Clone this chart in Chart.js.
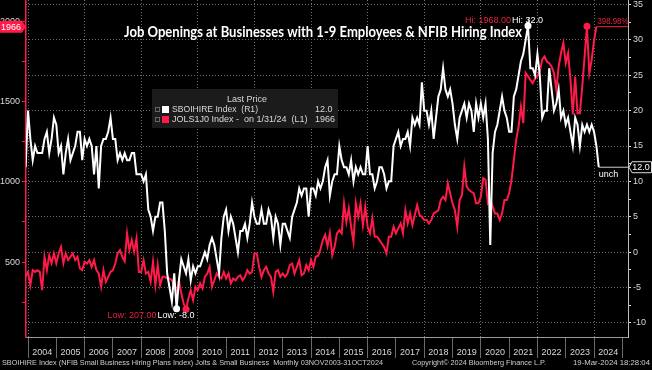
<!DOCTYPE html>
<html><head><meta charset="utf-8">
<script src="https://cdn.jsdelivr.net/npm/chart.js@4.4.1/dist/chart.umd.min.js"></script>
<style>html,body{margin:0;padding:0;background:#000;overflow:hidden}canvas{display:block}</style>
</head><body>
<canvas id="c" width="652" height="370"></canvas>
<script>
// ---- data ----
const years = ['2004','2005','2006','2007','2008','2009','2010','2011','2012','2013','2014','2015','2016','2017','2018','2019','2020','2021','2022','2023','2024'];
// month index 0 = Jan 2004 boundary; monthly values plotted at month end
const hiringStart = -1; // Nov 2003
const hiringPlans = [12,
20,16,13,15,14,14,14,16,17,14,16,19,
18,14,15,11,14,16,13,14,15,17,17,13,
16,15,16,15,11,15,9,15,16,16,17,19,
16,16,13,14,13,14,13,13,14,14,11,11,
11,10,11,6,5,3,5,5,7,7,3,-3,
-5,-7,-3,-8,-4,-1,-2,-3,-1,-4,-2,-3,
-2,-2,-1,0,-1,1,2,1,-1,-3,2,5,
6,3,5,4,2,0,3,3,4,2,4,7,
5,4,4,6,4,4,6,5,2,5,4,1,
4,4,3,2,5,6,7,9,8,9,9,5,
9,9,8,10,9,10,12,13,8,10,11,11,
15,13,12,12,11,13,10,12,11,12,11,11,
15,11,11,9,10,12,12,11,9,10,10,15,
16,17,15,16,16,17,15,19,18,19,18,24,
20,20,18,20,16,19,22,23,26,23,22,23,
21,18,16,19,20,21,19,21,20,17,21,19,
21,19,21,16,1,14,17,18,20,22,20,19,
17,17,22,23,25,27,28,30,32,26,26,25,
28,25,19,20,20,26,23,20,21,23,19,20,
18,19,17,15,19,18,15,18,17,18,17,18,
17,15,12];
const joltsStart = -1; // Nov 2003
const joltsOpenings = [408,
439,356,450,439,450,439,325,533,450,543,493,554,
493,554,595,493,554,512,533,554,512,533,460,450,
502,491,512,470,512,450,429,346,450,377,408,439,
450,491,554,575,533,505,679,575,637,565,648,439,
439,512,429,439,377,502,356,481,356,408,408,398,
398,387,346,304,387,304,242,207,273,325,263,346,
325,367,336,408,429,470,346,387,429,408,398,439,
398,429,367,398,387,408,418,387,408,450,429,439,
554,554,470,408,450,470,429,408,315,439,450,408,
429,408,429,481,491,429,470,512,418,429,481,450,
512,470,533,540,580,637,670,600,680,543,595,679,
699,679,866,751,834,720,626,866,782,866,730,845,
720,679,772,658,658,637,616,595,554,658,658,720,
679,710,741,679,824,741,803,730,793,855,793,782,
762,762,741,762,803,813,824,886,907,886,991,928,
866,824,720,886,917,1094,970,949,938,928,866,866,
907,1022,1012,866,887,845,803,803,762,803,886,886,
928,1011,1136,1261,1344,1468,1365,1677,1656,1635,1614,1646,
1656,1687,1760,1780,1749,1739,1718,1677,1573,1718,1802,1864,
1739,1802,1635,1420,1656,1427,1427,1593,1780,1968,1677,1760,
1880,1966];
const rightTicks = [-10,-7.5,-5,-2.5,0,2.5,5,7.5,10,12.5,15,17.5,20,22.5,25,27.5,30,32.5,35];
const leftTicks = [250,500,750,1000,1250,1500,1750,2000];

const TITLE = 'Job Openings at Businesses with 1-9 Employees & NFIB Hiring Index';
const LEG_HEAD = 'Last Price';
const LEG1 = 'SBOIHIRE Index  (R1)', LEG1V = '12.0';
const LEG2 = 'JOLS1J0 Index -  on 1/31/24  (L1)', LEG2V = '1966';
const FOOT_L = 'SBOIHIRE Index (NFIB Small Business Hiring Plans Index) Jolts & Small Business  Monthly 03NOV2003-31OCT2024';
const FOOT_C = 'Copyright\u00A9 2024 Bloomberg Finance L.P.';
const FOOT_R = '19-Mar-2024 18:28:04';
const PCT = '398.98%';

// ---- styles ----
const RED = '#ff1a4a', RED_TXT = '#e8203e', WHITE = '#ffffff', GRID = '#6e6e6e', TXT = '#d8d8d8';
const X_MIN = -0.85, X_MAX = 254.4;

const toXY = (start, arr) => arr.map((v, i) => ({x: start + i, y: v}));
const whitePts = toXY(hiringStart, hiringPlans);
const redPts = toXY(joltsStart, joltsOpenings);
const argMax = a => a.indexOf(Math.max(...a));
const argMin = a => a.indexOf(Math.min(...a));
const wHi = argMax(hiringPlans), wLo = argMin(hiringPlans);
const rHi = argMax(joltsOpenings), rLo = argMin(joltsOpenings);
const wLast = hiringPlans.length - 1, rLast = joltsOpenings.length - 1;

const xTicks = [];
years.forEach((y, k) => { xTicks.push({value: k * 12}); xTicks.push({value: k * 12 + 6}); });
xTicks.push({value: years.length * 12});

const f = (s, w) => ({family: 'Liberation Sans', size: s, weight: w || 'normal'});
const noPad = s => { s.paddingTop = 0; s.paddingBottom = 0; s.paddingLeft = 0; s.paddingRight = 0; };

const overlay = {
  id: 'overlay',
  afterDraw(chart) {
    const {ctx, scales} = chart;
    const xs = scales.x, yr = scales.y, yl = scales.y1;
    ctx.save();
    ctx.textBaseline = 'middle';
    // title
    ctx.fillStyle = WHITE;
    ctx.font = '700 15px Lato';
    ctx.textAlign = 'center';
    ctx.fillText(TITLE, 323, 32, 398);
    // legend box
    ctx.fillStyle = '#1b1b1b';
    ctx.fillRect(152, 89, 186, 39);
    ctx.font = '9px "Liberation Sans"';
    ctx.fillStyle = TXT;
    ctx.fillText(LEG_HEAD, 247, 100);
    ctx.textAlign = 'left';
    ctx.strokeStyle = '#666'; ctx.lineWidth = 1;
    ctx.strokeRect(155.5, 107.5, 4, 4);
    ctx.strokeRect(155.5, 117.5, 4, 4);
    ctx.fillStyle = WHITE; ctx.fillRect(162, 106, 7, 7);
    ctx.fillStyle = RED; ctx.fillRect(162, 116, 7, 7);
    ctx.fillStyle = TXT;
    ctx.fillText(LEG1, 172, 110, 86);
    ctx.fillText(LEG1V, 315, 110);
    ctx.fillText(LEG2, 172, 120, 140);
    ctx.fillText(LEG2V, 315, 120);
    // hi / low labels
    const hwX = xs.getPixelForValue(hiringStart + wHi), hwY = yr.getPixelForValue(hiringPlans[wHi]);
    const lwX = xs.getPixelForValue(hiringStart + wLo), lwY = yr.getPixelForValue(hiringPlans[wLo]);
    ctx.font = '9px "Liberation Sans"';
    ctx.textAlign = 'left'; ctx.fillStyle = WHITE;
    ctx.fillText('Hi: ' + hiringPlans[wHi].toFixed(1), hwX - 16, hwY - 5.5);
    ctx.textAlign = 'right'; ctx.fillStyle = RED_TXT;
    ctx.fillText('Hi: ' + joltsOpenings[rHi].toFixed(2), hwX - 17, hwY - 5.5);
    ctx.textAlign = 'left'; ctx.fillStyle = WHITE;
    ctx.fillText('Low: ' + hiringPlans[wLo].toFixed(1), lwX - 19, lwY + 7);
    ctx.textAlign = 'right'; ctx.fillStyle = RED_TXT;
    ctx.fillText('Low: ' + joltsOpenings[rLo].toFixed(2), lwX - 20, lwY + 7);
    // last value annotations
    const rlX = xs.getPixelForValue(joltsStart + rLast), rlY = yl.getPixelForValue(joltsOpenings[rLast]);
    ctx.textAlign = 'left'; ctx.fillStyle = RED_TXT;
    ctx.fillText(PCT, rlX + 1, rlY - 5, 31);
    const wlX = xs.getPixelForValue(hiringStart + wLast), wlY = yr.getPixelForValue(hiringPlans[wLast]);
    ctx.fillStyle = WHITE;
    ctx.fillText('unch', wlX, wlY + 7);
    // right value box
    const ax = chart.chartArea.right;
    ctx.beginPath();
    ctx.moveTo(ax + 1, wlY); ctx.lineTo(ax + 4, wlY - 5.5); ctx.lineTo(651.5, wlY - 5.5);
    ctx.lineTo(651.5, wlY + 5.5); ctx.lineTo(ax + 4, wlY + 5.5); ctx.closePath();
    ctx.fillStyle = '#000'; ctx.fill();
    ctx.strokeStyle = '#ddd'; ctx.stroke();
    ctx.fillStyle = WHITE; ctx.textAlign = 'center';
    ctx.fillText(hiringPlans[wLast].toFixed(1), 641, wlY + 0.5);
    // left value box
    const lbY = yl.getPixelForValue(joltsOpenings[rLast]);
    const al = chart.chartArea.left;
    ctx.beginPath();
    ctx.moveTo(0, lbY - 6); ctx.lineTo(al - 4, lbY - 6); ctx.lineTo(al, lbY);
    ctx.lineTo(al - 4, lbY + 6); ctx.lineTo(0, lbY + 6); ctx.closePath();
    ctx.fillStyle = RED; ctx.fill();
    ctx.fillStyle = WHITE;
    ctx.fillText(String(joltsOpenings[rLast]), 11, lbY + 0.5);
    // footer
    ctx.font = '8px "Liberation Sans"';
    ctx.fillStyle = '#cfcfcf';
    ctx.textAlign = 'left';
    ctx.fillText(FOOT_L, 2, 363, 381);
    ctx.fillText(FOOT_C, 412, 363, 134);
    ctx.fillText(FOOT_R, 573, 363, 77);
    ctx.restore();
  }
};

new Chart(document.getElementById('c'), {
  type: 'line',
  data: {
    datasets: [
      {data: whitePts, yAxisID: 'y', borderColor: WHITE, backgroundColor: WHITE, borderWidth: 2,
       pointRadius: c => (c.dataIndex === wHi || c.dataIndex === wLo) ? 3.5 : 0, pointBorderWidth: 0, order: 1},
      {data: redPts, yAxisID: 'y1', borderColor: RED, backgroundColor: RED, borderWidth: 2,
       pointRadius: c => (c.dataIndex === rHi || c.dataIndex === rLo) ? 3.5 : 0, pointBorderWidth: 0, order: 2},
      {data: [{x: hiringStart + wLast, y: hiringPlans[wLast]}, {x: X_MAX, y: hiringPlans[wLast]}], yAxisID: 'y',
       borderColor: '#cfcfcf', borderWidth: 1, pointRadius: 0},
      {data: [{x: joltsStart + rLast, y: joltsOpenings[rLast]}, {x: X_MAX, y: joltsOpenings[rLast]}], yAxisID: 'y1',
       borderColor: RED_TXT, borderWidth: 1, pointRadius: 0}
    ]
  },
  options: {
    responsive: false, animation: false, devicePixelRatio: 1,
    layout: {padding: 0, autoPadding: false},
    elements: {line: {tension: 0}},
    plugins: {legend: {display: false}, tooltip: {enabled: false}},
    scales: {
      x: {
        type: 'linear', position: 'bottom', min: X_MIN, max: X_MAX,
        afterBuildTicks: s => { s.ticks = xTicks.map(t => ({value: t.value})); },
        afterFit: s => { s.height = 33; noPad(s); },
        ticks: {autoSkip: false, maxRotation: 0, minRotation: 0, padding: -11, color: TXT, font: f(9),
          callback: v => (v % 12 === 6) ? years[(v - 6) / 12] : ''},
        grid: {drawOnChartArea: true, tickLength: 21,
          color: c => (c.tick && c.tick.value % 24 === 0) ? GRID : 'rgba(0,0,0,0)',
          tickColor: c => (c.tick && c.tick.value % 12 === 0) ? '#6a6a6a' : 'rgba(0,0,0,0)'},
        border: {color: '#9a9a9a', width: 1, dash: [1, 2]}
      },
      y: {
        type: 'linear', position: 'right', min: -12, max: 35.64,
        afterBuildTicks: s => { s.ticks = rightTicks.map(v => ({value: v})); },
        afterFit: s => { s.width = 24; noPad(s); },
        ticks: {color: TXT, font: f(9), padding: 2, callback: v => (v % 5 === 0) ? String(v) : ''},
        grid: {drawOnChartArea: true, tickLength: 3,
          color: c => (c.tick && c.tick.value % 5 === 0) ? GRID : 'rgba(0,0,0,0)',
          tickColor: '#dddddd'},
        border: {color: '#bdbdbd', width: 1, dash: [1, 2]}
      },
      y1: {
        type: 'linear', position: 'left', min: 33.6, max: 2132,
        afterBuildTicks: s => { s.ticks = leftTicks.map(v => ({value: v})); },
        afterFit: s => { s.width = 26; noPad(s); },
        ticks: {color: TXT, font: f(9), padding: 2, callback: v => (v % 500 === 0) ? String(v) : ''},
        grid: {drawOnChartArea: false, tickLength: 4, tickColor: RED},
        border: {color: RED, width: 1.5}
      }
    }
  },
  plugins: [overlay]
});
</script>
</body></html>
